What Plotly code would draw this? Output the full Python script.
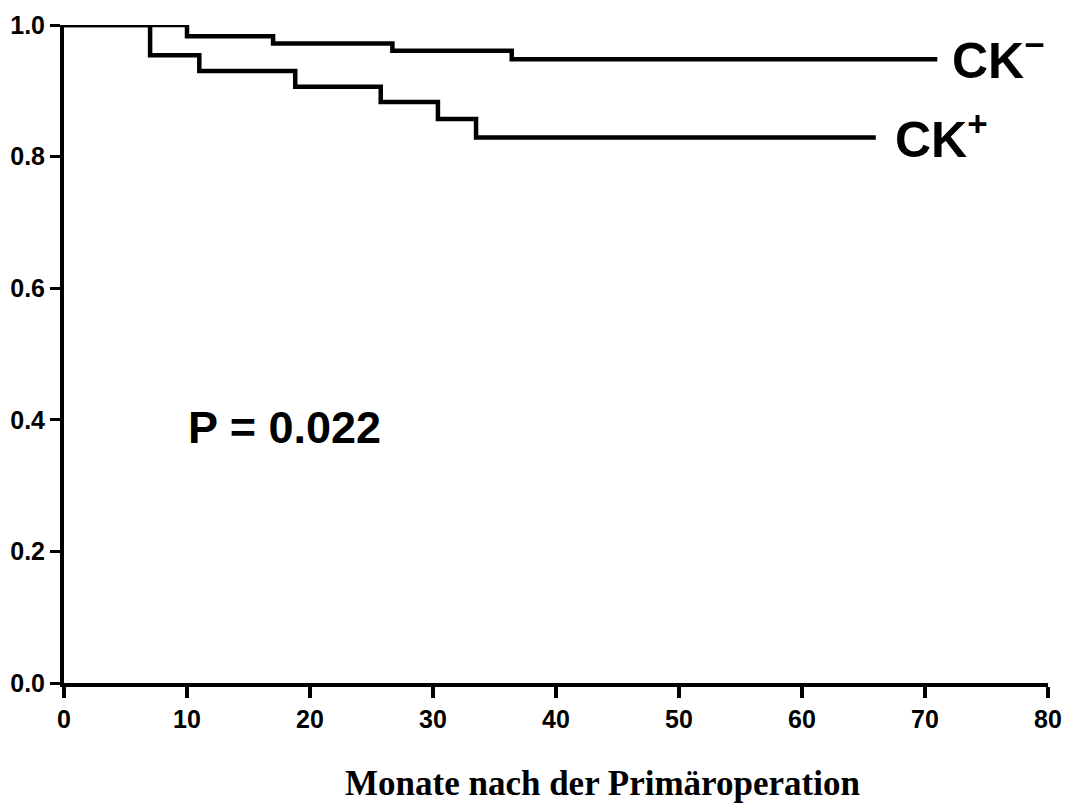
import plotly.graph_objects as go

# Kaplan-Meier step data (months, survival)
ck_neg_x = [0, 10, 17, 26.7, 36.4, 71]
ck_neg_y = [1.0, 0.983, 0.972, 0.961, 0.948, 0.948]
ck_pos_x = [0, 7, 11, 18.8, 25.75, 30.4, 33.5, 66]
ck_pos_y = [1.0, 0.954, 0.930, 0.906, 0.883, 0.857, 0.829, 0.829]

x_ticks = [0, 10, 20, 30, 40, 50, 60, 70, 80]
y_ticks = [0.0, 0.2, 0.4, 0.6, 0.8, 1.0]
y_ticklabels = ["0.0", "0.2", "0.4", "0.6", "0.8", "1.0"]

labels = ["CK<sup>−</sup>", "CK<sup>+</sup>"]
p_text = "P = 0.022"
x_title = "Monate nach der Primäroperation"

fig = go.Figure()
for xs, ys in [(ck_neg_x, ck_neg_y), (ck_pos_x, ck_pos_y)]:
    fig.add_trace(go.Scatter(
        x=xs, y=ys, mode="lines", line=dict(shape="hv", color="black", width=4.5),
        cliponaxis=False, showlegend=False, hoverinfo="skip"))

sans = "Liberation Sans, Arial, sans-serif"
fig.add_annotation(x=ck_neg_x[-1], y=ck_neg_y[-1], text=labels[0], showarrow=False,
                   xanchor="left", yanchor="middle", xshift=13, yshift=2,
                   font=dict(family=sans, size=50, color="black", weight="bold"))
fig.add_annotation(x=ck_pos_x[-1], y=ck_pos_y[-1], text=labels[1], showarrow=False,
                   xanchor="left", yanchor="middle", xshift=17, yshift=2,
                   font=dict(family=sans, size=50, color="black", weight="bold"))
fig.add_annotation(x=9.9, y=0.388, text=p_text, showarrow=False,
                   xanchor="left", yanchor="middle",
                   font=dict(family=sans, size=45, color="black", weight="bold"))
fig.add_annotation(xref="paper", yref="paper", x=0.5475, y=-0.153, text=x_title,
                   showarrow=False, xanchor="center", yanchor="middle",
                   font=dict(family="Liberation Serif, Times New Roman, serif", size=35,
                             color="black", weight="bold"))

fig.update_layout(
    width=1066, height=808,
    margin=dict(l=64, r=18, t=25, b=125),
    paper_bgcolor="white", plot_bgcolor="white",
    xaxis=dict(range=[0, 80], tickvals=x_ticks, showgrid=False, zeroline=False,
               automargin=False,
               showline=True, linecolor="black", linewidth=4,
               ticks="outside", ticklen=11, tickwidth=4, tickcolor="black",
               tickfont=dict(family=sans, size=25, color="black", weight="bold")),
    yaxis=dict(range=[0, 1], tickvals=y_ticks, ticktext=y_ticklabels, showgrid=False,
               automargin=False,
               zeroline=False, showline=True, linecolor="black", linewidth=4,
               ticks="outside", ticklen=10, tickwidth=3, tickcolor="black",
               tickfont=dict(family=sans, size=25, color="black", weight="bold")),
)

fig.write_html("out.html", config={"displayModeBar": False},
               post_script="document.body.style.margin='0';document.body.style.overflow='hidden';")
